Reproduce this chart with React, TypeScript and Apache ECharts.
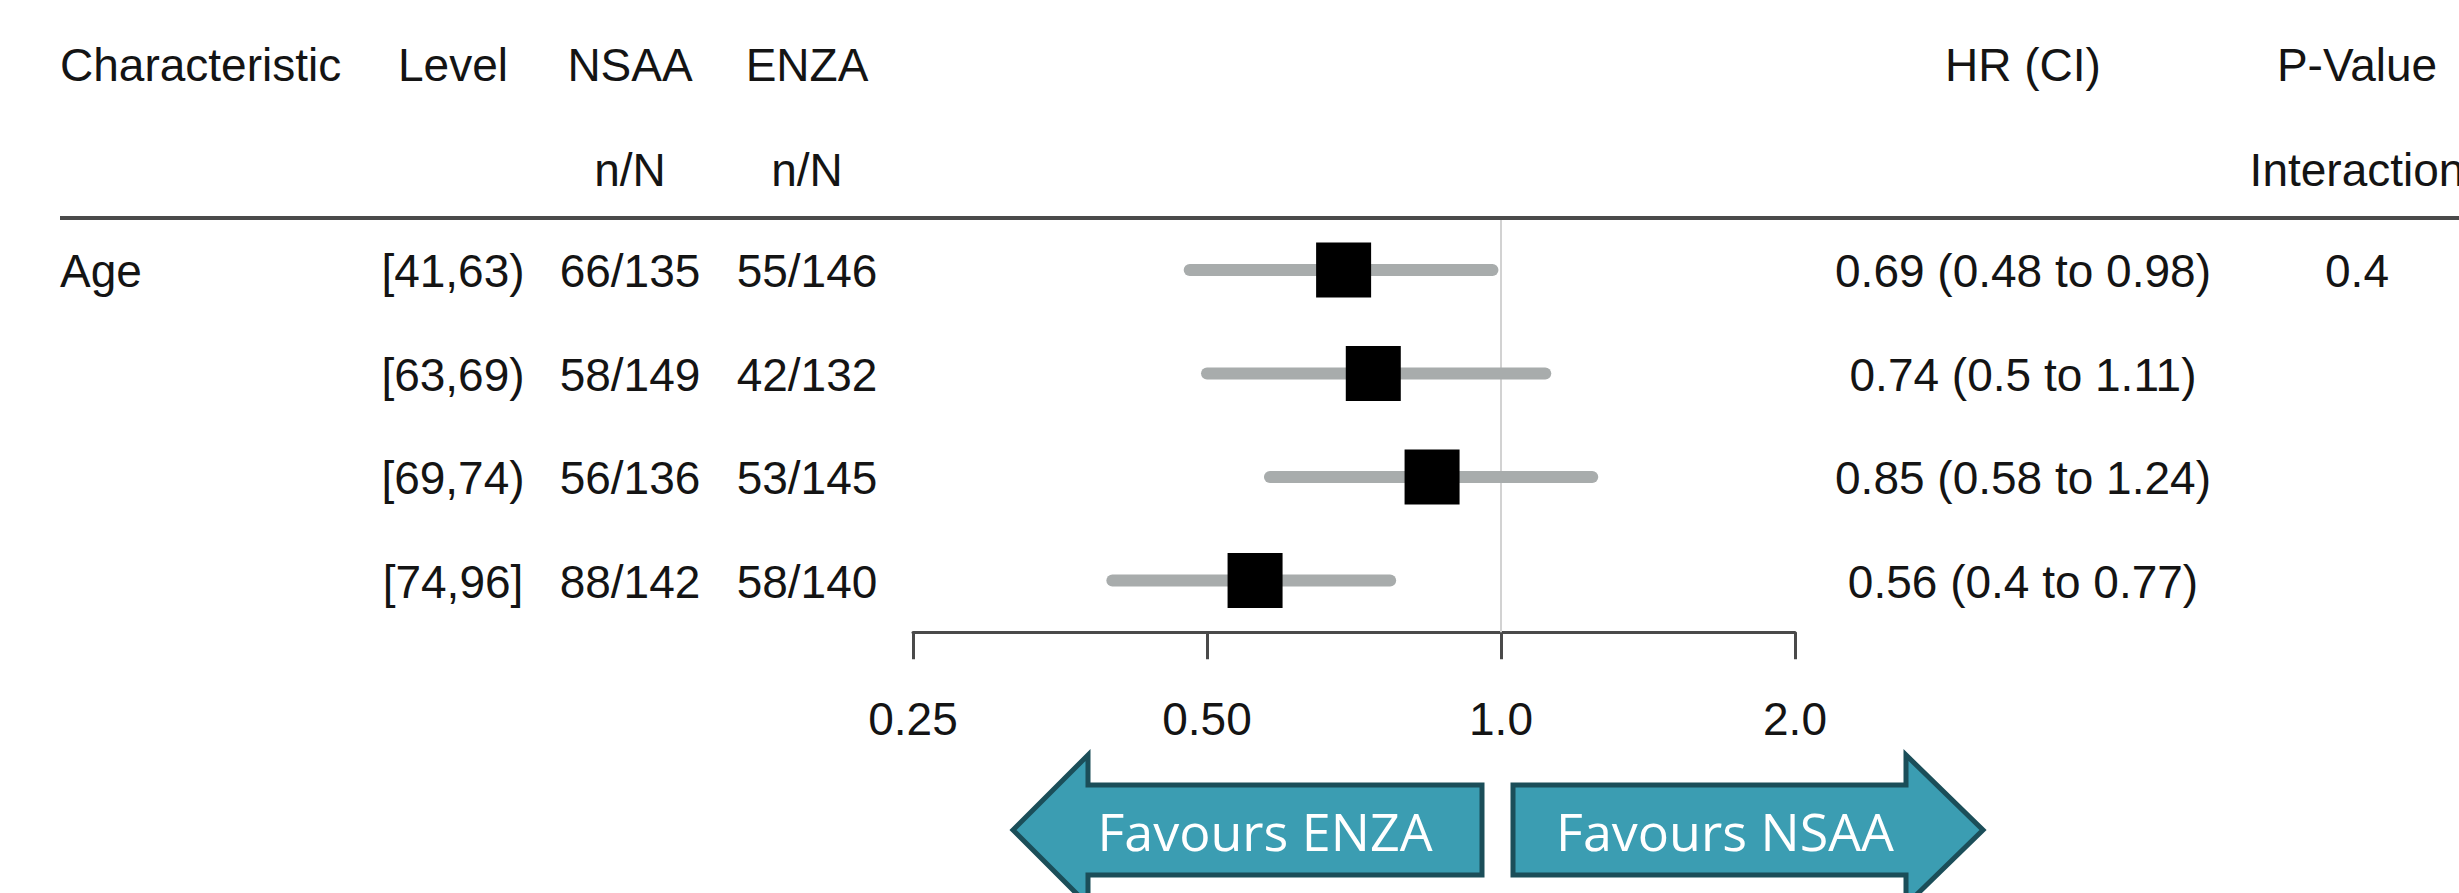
import React, { useEffect, useRef } from "react";
import * as echarts from "echarts";

// ---- data ----
const characteristics = ["Age", "", "", ""];
const levels = ["[41,63)", "[63,69)", "[69,74)", "[74,96]"];
const nsaaCounts = ["66/135", "58/149", "56/136", "88/142"];
const enzaCounts = ["55/146", "42/132", "53/145", "58/140"];
const hazardRatios = [0.69, 0.74, 0.85, 0.56];
const ciLower = [0.48, 0.5, 0.58, 0.4];
const ciUpper = [0.98, 1.11, 1.24, 0.77];
const pInteraction = ["0.4", "", "", ""];
const xTickValues = [0.25, 0.5, 1, 2];
const xTickLabels = ["0.25", "0.50", "1.0", "2.0"];
const headerRow1 = ["Characteristic", "Level", "NSAA", "ENZA", "HR (CI)", "P-Value"];
const headerRow2 = ["", "", "n/N", "n/N", "", "Interaction"];
const arrowLabels = ["Favours ENZA", "Favours NSAA"];

// ---- layout ----
const FONT = "'Liberation Sans', Arial, Helvetica, sans-serif";
const TXT = "#141414";
const FS = 46;
// column anchors: [x, align]
const COLS: [number, "left" | "center"][] = [
  [60, "left"],
  [453, "center"],
  [630, "center"],
  [807, "center"],
  [2023, "center"],
  [2357, "center"],
];

export default function App() {
  const ref = useRef<HTMLDivElement>(null);

  useEffect(() => {
    if (!ref.current) return;
    const chart = echarts.init(ref.current, undefined, { renderer: "svg" });

    const rowIdx = levels.map((_, i) => i);

    const headerTexts: any[] = [];
    [headerRow1, headerRow2].forEach((row, r) => {
      row.forEach((t, c) => {
        if (!t) return;
        headerTexts.push({
          type: "text",
          x: COLS[c][0],
          y: r === 0 ? 65 : 170,
          style: {
            text: t,
            fontSize: FS,
            fontFamily: FONT,
            fill: TXT,
            align: COLS[c][1],
            verticalAlign: "middle",
          },
        });
      });
    });

    const arrowStyle = { fill: "#3b9db2", stroke: "#1b4e59", lineWidth: 5, lineJoin: "miter" };

    const option: any = {
      animation: false,
      backgroundColor: "#ffffff",
      grid: { left: 913, top: 218.25, width: 882, height: 414, containLabel: false },
      xAxis: {
        type: "log",
        logBase: 2,
        min: 0.25,
        max: 2,
        axisLine: { show: true, lineStyle: { color: "#4a4a4a", width: 3 } },
        axisTick: { show: true, length: 27, lineStyle: { color: "#4a4a4a", width: 3 } },
        axisLabel: {
          fontSize: FS,
          fontFamily: FONT,
          color: TXT,
          margin: 64,
          formatter: (v: number) => {
            const i = xTickValues.findIndex((t) => Math.abs(t - v) < 1e-6);
            return i >= 0 ? xTickLabels[i] : "";
          },
        },
        splitLine: { show: false },
        minorTick: { show: false },
      },
      yAxis: {
        type: "category",
        data: levels,
        inverse: true,
        show: false,
      },
      graphic: [
        ...headerTexts,
        {
          type: "line",
          shape: { x1: 60, y1: 218, x2: 2459, y2: 218 },
          style: { stroke: "#4a4a4a", lineWidth: 4 },
          z: 10,
        },
        {
          type: "polygon",
          shape: {
            points: [
              [1013, 830],
              [1088, 755],
              [1088, 785],
              [1482, 785],
              [1482, 875],
              [1088, 875],
              [1088, 905],
            ],
          },
          style: arrowStyle,
        },
        {
          type: "polygon",
          shape: {
            points: [
              [1513, 785],
              [1906, 785],
              [1906, 755],
              [1983, 830],
              [1906, 905],
              [1906, 875],
              [1513, 875],
            ],
          },
          style: arrowStyle,
        },
        {
          type: "text",
          x: 1265,
          y: 830,
          z: 20,
          style: {
            text: arrowLabels[0],
            fontSize: 52,
            fontFamily: "'Open Sans', sans-serif",
            fill: "#ffffff",
            align: "center",
            verticalAlign: "middle",
          },
        },
        {
          type: "text",
          x: 1725,
          y: 830,
          z: 20,
          style: {
            text: arrowLabels[1],
            fontSize: 52,
            fontFamily: "'Open Sans', sans-serif",
            fill: "#ffffff",
            align: "center",
            verticalAlign: "middle",
          },
        },
      ],
      series: [
        {
          type: "custom",
          name: "CI",
          clip: false,
          encode: { x: [0, 1], y: 2 },
          data: rowIdx.map((i) => [ciLower[i], ciUpper[i], i]),
          renderItem: (params: any, api: any) => {
            const p1 = api.coord([api.value(0), api.value(2)]);
            const p2 = api.coord([api.value(1), api.value(2)]);
            return {
              type: "line",
              shape: { x1: p1[0], y1: p1[1], x2: p2[0], y2: p2[1] },
              style: { stroke: "#a8acac", lineWidth: 12, lineCap: "round" },
            };
          },
          z: 2,
        },
        {
          type: "scatter",
          name: "HR",
          symbol: "rect",
          symbolSize: 55,
          itemStyle: { color: "#000000", opacity: 1 },
          data: rowIdx.map((i) => [hazardRatios[i], i]),
          z: 3,
          markLine: {
            silent: true,
            symbol: ["none", "none"],
            label: { show: false },
            lineStyle: { color: "#d2d2d2", width: 2, type: "solid" },
            data: [{ xAxis: 1 }],
            z: 1,
          },
        },
        {
          type: "custom",
          name: "table",
          clip: false,
          encode: { y: 0 },
          data: rowIdx.map((i) => [i]),
          renderItem: (params: any, api: any) => {
            const i = api.value(0);
            const y = api.coord([1, i])[1];
            const texts = [
              characteristics[i],
              levels[i],
              nsaaCounts[i],
              enzaCounts[i],
              `${hazardRatios[i]} (${ciLower[i]} to ${ciUpper[i]})`,
              pInteraction[i],
            ];
            return {
              type: "group",
              children: texts
                .map((t, c) => ({
                  type: "text",
                  x: COLS[c][0],
                  y: y + 1,
                  style: {
                    text: t,
                    fontSize: FS,
                    fontFamily: FONT,
                    fill: TXT,
                    align: COLS[c][1],
                    verticalAlign: "middle",
                  },
                }))
                .filter((e) => e.style.text),
            };
          },
        },
      ],
    };

    chart.setOption(option);
    return () => chart.dispose();
  }, []);

  return (
    <div
      ref={ref}
      style={{ position: "fixed", left: 0, top: 0, width: 2459, height: 893, background: "#fff" }}
    />
  );
}
